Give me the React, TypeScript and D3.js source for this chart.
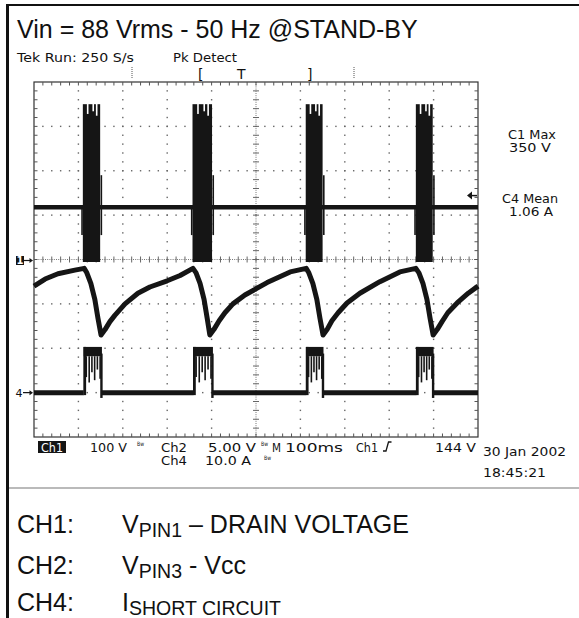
import React, { useEffect, useRef } from "react";
import { select, scaleLinear, line, range } from "d3";

// horizontal: 100 ms/div, 10 div
const timeDomain = [0, 1000];

// CH1 drain voltage (V), 100 V/div
const ch1Level = 118;
const ch1Peak = 350;
const burstStart = [110, 357, 612, 860];
const burstEnd = [149, 401, 650, 898];
const notchPos = [0.28, 0.6, 0.8];
const notchDepth = [22, 16, 26];
const edgeLow = 55;
const edgeHigh = 190;
const triggerLevel = 144;

// CH2 Vcc (V), 5 V/div  [ms, V]
const ch2Points: [number, number][] = [
  [0, 12.0], [25, 12.8], [54, 13.4], [92, 13.8], [113, 14.0],
  [119, 13.5], [128, 12.3], [137, 10.5], [144, 8.4], [151, 6.5],
  [160, 7.1], [171, 8.0], [182, 8.7], [205, 10.0], [234, 11.2], [261, 11.9], [300, 12.6], [329, 13.2], [358, 14.0],
  [365, 13.5], [374, 12.3], [383, 10.5], [390, 8.4], [396, 6.5],
  [405, 7.1], [417, 8.1], [430, 9.0], [448, 10.0], [475, 11.0], [525, 12.4], [577, 13.6], [613, 14.0],
  [619, 13.5], [628, 12.3], [637, 10.5], [644, 8.4], [651, 6.5],
  [660, 7.1], [671, 8.1], [685, 9.0], [705, 10.1], [734, 11.2], [779, 12.5], [824, 13.6], [860, 14.0],
  [867, 13.5], [876, 12.3], [885, 10.5], [892, 8.4], [899, 6.5],
  [908, 7.1], [919, 8.0], [932, 9.0], [953, 10.1], [978, 11.2], [1000, 12.0],
];

// CH4 short circuit current (A), 10 A/div
const pulseStart = [112, 359, 613, 861];
const pulseEnd = [153, 403, 652, 900];
const pulseTop = 10.3;
const bandBottom = 8.2;
const strandPos = [0.14, 0.3, 0.45, 0.6, 0.75, 0.9];
const strandLow = [3.5, 2.3, 4.6, 2.8, 5.2, 3.1];
const pulseUndershoot = -1.2;

const FONT = "'Liberation Sans', Arial, sans-serif";
const TEK = "'DejaVu Sans', sans-serif";

export default function App() {
  const svgRef = useRef<SVGSVGElement>(null);

  useEffect(() => {
    const svg = select(svgRef.current);
    svg.selectAll("*").remove();

    const X0 = 34, X1 = 478, Y0 = 82, Y1 = 437;
    const x = scaleLinear().domain(timeDomain).range([X0, X1]);
    const yDiv = scaleLinear().domain([-4, 4]).range([Y1, Y0]);
    const y1 = (v: number) => yDiv(v / 100);
    const y2 = (v: number) => yDiv(v / 5 - 3);
    const y4 = (a: number) => yDiv(a / 10 - 3);

    const text = (s: string, tx: number, ty: number, size: number, opts: any = {}) => {
      const t = svg.append("text").attr("x", tx).attr("y", ty)
        .attr("font-family", opts.family || FONT).attr("font-size", size)
        .attr("fill", opts.fill || "#111").text(s);
      if (opts.anchor) t.attr("text-anchor", opts.anchor);
      if (opts.len) t.attr("textLength", opts.len).attr("lengthAdjust", "spacingAndGlyphs");
      if (opts.weight) t.attr("font-weight", opts.weight);
      return t;
    };
    const tek = (s: string, tx: number, ty: number, size: number, opts: any = {}) =>
      text(s, tx, ty, size, { family: TEK, ...opts });

    // outer frame
    svg.append("rect").attr("x", 6).attr("y", 4).attr("width", 3).attr("height", 614).attr("fill", "#111");
    svg.append("rect").attr("x", 6).attr("y", 4).attr("width", 573).attr("height", 2).attr("fill", "#111");
    svg.append("line").attr("x1", 9).attr("x2", 579).attr("y1", 488).attr("y2", 488)
      .attr("stroke", "#777").attr("stroke-width", 1.2);

    text("Vin = 88 Vrms - 50 Hz @STAND-BY", 17, 38, 25);

    // scope header
    tek("Tek Run: 250 S/s", 17, 62, 12.5, { len: 117 });
    tek("Pk Detect", 173, 62, 12.5, { len: 64 });
    tek("[", 198, 79, 14);
    tek("T", 237, 79, 14);
    tek("]", 307, 79, 14);
    [132, 354].forEach(mx => {
      svg.append("line").attr("x1", mx).attr("x2", mx).attr("y1", 67).attr("y2", 79)
        .attr("stroke", "#555").attr("stroke-dasharray", "1 1");
    });

    // grid
    const grid = svg.append("g");
    const minorY = range(1, 40).map(j => -4 + j * 0.2);
    const minorT = range(1, 50).map(j => j * 20);
    const vDots: [number, number][] = [];
    [1, 2, 3, 4, 6, 7, 8, 9].forEach(i => minorY.forEach(d => vDots.push([x(i * 100), yDiv(d)])));
    [-3, -2, -1, 1, 2, 3].forEach(k => minorT.forEach(t => vDots.push([x(t), yDiv(k)])));
    grid.selectAll(".dot").data(vDots).join("rect").attr("class", "dot")
      .attr("x", d => d[0] - 0.7).attr("y", d => d[1] - 0.7)
      .attr("width", 1.4).attr("height", 1.4).attr("fill", "#666");

    // center cross
    grid.append("line").attr("x1", x(500)).attr("x2", x(500)).attr("y1", Y0).attr("y2", Y1)
      .attr("stroke", "#777").attr("stroke-dasharray", "1 1.2");
    grid.append("line").attr("x1", X0).attr("x2", X1).attr("y1", yDiv(0)).attr("y2", yDiv(0))
      .attr("stroke", "#777").attr("stroke-dasharray", "1 1.2");
    grid.selectAll(".cty").data(minorY).join("line").attr("class", "cty")
      .attr("x1", x(500) - 3).attr("x2", x(500) + 3).attr("y1", d => yDiv(d)).attr("y2", d => yDiv(d))
      .attr("stroke", "#666");
    grid.selectAll(".ctx").data(minorT).join("line").attr("class", "ctx")
      .attr("x1", d => x(d)).attr("x2", d => x(d)).attr("y1", yDiv(0) - 3).attr("y2", yDiv(0) + 3)
      .attr("stroke", "#666");

    // border with inward ticks
    grid.append("rect").attr("x", X0).attr("y", Y0).attr("width", X1 - X0).attr("height", Y1 - Y0)
      .attr("fill", "none").attr("stroke", "#333").attr("stroke-width", 1.2);
    grid.selectAll(".btx").data(minorT.flatMap(t => [[t, Y0, 1], [t, Y1, -1]])).join("line").attr("class", "btx")
      .attr("x1", d => x(d[0])).attr("x2", d => x(d[0]))
      .attr("y1", d => d[1]).attr("y2", d => d[1] + d[2] * 3.5).attr("stroke", "#555");
    grid.selectAll(".bty").data(minorY.flatMap(v => [[v, X0, 1], [v, X1, -1]])).join("line").attr("class", "bty")
      .attr("y1", d => yDiv(d[0])).attr("y2", d => yDiv(d[0]))
      .attr("x1", d => d[1]).attr("x2", d => d[1] + d[2] * 3.5).attr("stroke", "#555");

    // CH1 trace
    const traces = svg.append("g");
    traces.append("line").attr("x1", x(0)).attr("x2", x(1000))
      .attr("y1", y1(ch1Level)).attr("y2", y1(ch1Level))
      .attr("stroke", "#151515").attr("stroke-width", 4.5);
    const bursts = burstStart.map((s, i) => ({ s, e: burstEnd[i] }));
    traces.selectAll(".burst").data(bursts).join("rect").attr("class", "burst")
      .attr("x", d => x(d.s)).attr("width", d => x(d.e) - x(d.s))
      .attr("y", y1(ch1Peak)).attr("height", y1(0) + 2.5 - y1(ch1Peak))
      .attr("fill", "#151515");
    traces.selectAll(".ledge").data(bursts).join("line").attr("class", "ledge")
      .attr("x1", d => x(d.s) - 0.8).attr("x2", d => x(d.s) - 0.8)
      .attr("y1", y1(ch1Level)).attr("y2", y1(edgeLow))
      .attr("stroke", "#151515").attr("stroke-width", 1.6);
    traces.selectAll(".redge").data(bursts).join("line").attr("class", "redge")
      .attr("x1", d => x(d.e) + 1.2).attr("x2", d => x(d.e) + 1.2)
      .attr("y1", y1(edgeHigh)).attr("y2", y1(edgeLow))
      .attr("stroke", "#151515").attr("stroke-width", 1.6);
    const notches = bursts.flatMap(b => notchPos.map((p, i) => ({ t: b.s + p * (b.e - b.s), d: notchDepth[i] })));
    traces.selectAll(".notch").data(notches).join("rect").attr("class", "notch")
      .attr("x", d => x(d.t) - 0.8).attr("width", 1.6)
      .attr("y", y1(ch1Peak) - 0.5).attr("height", d => y1(ch1Peak - d.d) - y1(ch1Peak) + 0.5)
      .attr("fill", "#fff");

    // CH2 trace
    const ch2Line = line<[number, number]>().x(d => x(d[0])).y(d => y2(d[1]));
    traces.append("path").attr("d", ch2Line(ch2Points) || "")
      .attr("fill", "none").attr("stroke", "#151515").attr("stroke-width", 5)
      .attr("stroke-linejoin", "round");

    // CH4 trace
    const pulses = pulseStart.map((s, i) => ({ s, e: pulseEnd[i] }));
    const baseSegs = [[0, pulseStart[0]], ...pulses.map((p, i) => [p.e, i < pulses.length - 1 ? pulses[i + 1].s : 1000])];
    traces.selectAll(".base4").data(baseSegs).join("line").attr("class", "base4")
      .attr("x1", d => x(d[0])).attr("x2", d => x(d[1]))
      .attr("y1", y4(0)).attr("y2", y4(0))
      .attr("stroke", "#151515").attr("stroke-width", 5);
    traces.selectAll(".lp4").data(pulses).join("line").attr("class", "lp4")
      .attr("x1", d => x(d.s) + 1).attr("x2", d => x(d.s) + 1)
      .attr("y1", y4(0) + 2.5).attr("y2", y4(pulseTop))
      .attr("stroke", "#151515").attr("stroke-width", 2.8);
    traces.selectAll(".band4").data(pulses).join("rect").attr("class", "band4")
      .attr("x", d => x(d.s)).attr("width", d => x(d.e) - x(d.s))
      .attr("y", y4(pulseTop)).attr("height", y4(bandBottom) - y4(pulseTop))
      .attr("fill", "#151515");
    const strands = pulses.flatMap(p => strandPos.map((f, i) => ({ t: p.s + f * (p.e - p.s), a: strandLow[i] })));
    traces.selectAll(".str4").data(strands).join("line").attr("class", "str4")
      .attr("x1", d => x(d.t)).attr("x2", d => x(d.t))
      .attr("y1", y4(bandBottom)).attr("y2", d => y4(d.a))
      .attr("stroke", "#151515").attr("stroke-width", 1.6);
    traces.selectAll(".rp4").data(pulses).join("line").attr("class", "rp4")
      .attr("x1", d => x(d.e) - 0.5).attr("x2", d => x(d.e) - 0.5)
      .attr("y1", y4(pulseTop - 1.5)).attr("y2", y4(pulseUndershoot))
      .attr("stroke", "#151515").attr("stroke-width", 2.4);

    // channel markers
    svg.append("rect").attr("x", 16).attr("y", y1(0) - 3.5).attr("width", 8).attr("height", 9).attr("fill", "#151515");
    tek("1", 20, y1(0) + 4.5, 10, { anchor: "middle", fill: "#fff", weight: "bold" });
    svg.append("line").attr("x1", 24).attr("x2", 31).attr("y1", y1(0) + 1).attr("y2", y1(0) + 1).attr("stroke", "#151515").attr("stroke-width", 1.2);
    svg.append("path").attr("d", `M33,${y1(0) + 1} l-3.5,-2.5 v5 z`).attr("fill", "#151515");
    tek("4", 19, y4(0) + 4, 11, { anchor: "middle" });
    svg.append("line").attr("x1", 23).attr("x2", 31).attr("y1", y4(0)).attr("y2", y4(0)).attr("stroke", "#151515").attr("stroke-width", 1.2);
    svg.append("path").attr("d", `M33,${y4(0)} l-3.5,-2.5 v5 z`).attr("fill", "#151515");
    // trigger level arrow
    svg.append("line").attr("x1", 470).attr("x2", 477).attr("y1", y1(triggerLevel)).attr("y2", y1(triggerLevel))
      .attr("stroke", "#151515").attr("stroke-width", 1.5);
    svg.append("path").attr("d", `M467,${y1(triggerLevel)} l5,-4 v8 z`).attr("fill", "#151515");

    // right readouts
    tek("C1 Max", 532, 139, 11.5, { anchor: "middle", len: 48 });
    tek("350 V", 530, 152, 11.5, { anchor: "middle", len: 42 });
    tek("C4 Mean", 530, 203, 11.5, { anchor: "middle", len: 56 });
    tek("1.06 A", 531, 216, 11.5, { anchor: "middle", len: 44 });

    // bottom readouts
    svg.append("rect").attr("x", 38).attr("y", 441).attr("width", 28).attr("height", 12).attr("fill", "#151515");
    tek("Ch1", 52, 451.5, 12.5, { anchor: "middle", fill: "#fff", len: 22 });
    tek("100 V", 90, 451.5, 12.5, { len: 37 });
    tek("Bw", 137, 446, 6, { len: 7 });
    tek("Ch2", 161, 451.5, 12.5, { len: 26 });
    tek("5.00 V", 208, 451.5, 12.5, { len: 48 });
    tek("Bw", 261, 446, 6, { len: 7 });
    tek("M", 272, 451.5, 12.5, { len: 9 });
    tek("100ms", 285, 451.5, 12.5, { len: 58 });
    tek("Ch1", 356, 451.5, 12.5, { len: 22 });
    svg.append("path").attr("d", "M383,451 H386 L388.5,442 H391.5").attr("fill", "none")
      .attr("stroke", "#151515").attr("stroke-width", 1.3);
    tek("144 V", 435, 451.5, 12.5, { len: 41 });
    tek("Ch4", 161, 465, 12.5, { len: 26 });
    tek("10.0 A", 205, 465, 12.5, { len: 46 });
    tek("Bw", 264, 460, 6, { len: 7 });
    tek("30 Jan 2002", 483, 456, 13, { len: 83 });
    tek("18:45:21", 483, 477, 13, { len: 63 });

    // channel legend
    const legend = (ch: string, main: string, sub: string, rest: string, ty: number) => {
      text(ch, 17, ty, 25);
      const t = svg.append("text").attr("x", 122).attr("y", ty).attr("font-family", FONT).attr("fill", "#111");
      t.append("tspan").attr("font-size", 25).text(main);
      t.append("tspan").attr("font-size", 19.5).attr("dy", 3.5).text(sub);
      if (rest) t.append("tspan").attr("font-size", 25).attr("dy", -3.5).text(rest);
    };
    legend("CH1:", "V", "PIN1", " \u2013 DRAIN VOLTAGE", 533);
    legend("CH2:", "V", "PIN3", " - Vcc", 574);
    legend("CH4:", "I", "SHORT CIRCUIT", "", 611);
  }, []);

  return (
    <svg ref={svgRef} width={579} height={618}
      style={{ position: "absolute", left: 0, top: 0, background: "#fff" }} />
  );
}
